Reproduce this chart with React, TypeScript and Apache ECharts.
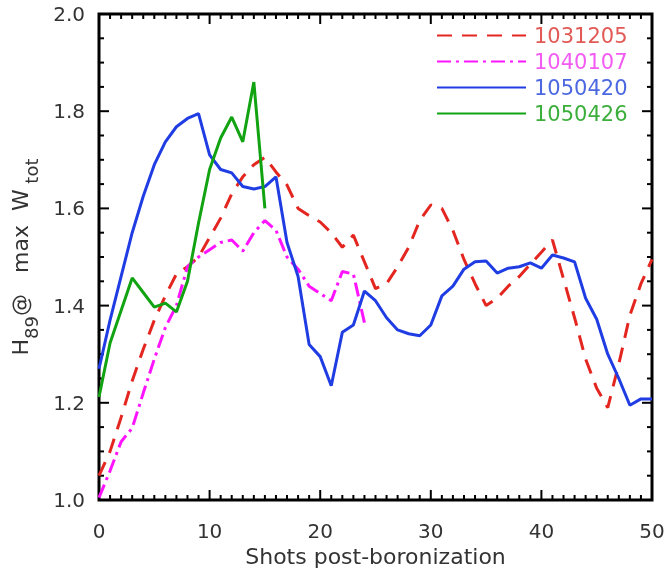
import React, { useEffect, useRef } from 'react';
import * as echarts from 'echarts';

// Shot number is the array index (0, 1, 2, ...)
const series1031205 = [1.05, 1.10, 1.17, 1.245, 1.31, 1.37, 1.42, 1.465, 1.48, 1.50, 1.54, 1.58, 1.63, 1.665, 1.69, 1.705, 1.675, 1.648, 1.60, 1.585, 1.572, 1.55, 1.52, 1.545, 1.49, 1.435, 1.445, 1.48, 1.52, 1.575, 1.607, 1.60, 1.555, 1.495, 1.445, 1.40, 1.415, 1.44, 1.46, 1.485, 1.51, 1.535, 1.455, 1.375, 1.29, 1.23, 1.19, 1.28, 1.38, 1.445, 1.495];
const series1040107 = [1.005, 1.06, 1.12, 1.148, 1.22, 1.29, 1.355, 1.40, 1.48, 1.50, 1.515, 1.53, 1.535, 1.512, 1.55, 1.575, 1.555, 1.50, 1.475, 1.44, 1.425, 1.41, 1.47, 1.465, 1.365];
const series1050420 = [1.27, 1.37, 1.46, 1.55, 1.625, 1.69, 1.737, 1.768, 1.785, 1.795, 1.71, 1.68, 1.673, 1.645, 1.64, 1.645, 1.665, 1.53, 1.46, 1.32, 1.295, 1.235, 1.345, 1.36, 1.43, 1.41, 1.375, 1.35, 1.342, 1.338, 1.36, 1.42, 1.44, 1.475, 1.49, 1.492, 1.467, 1.477, 1.48, 1.488, 1.477, 1.504, 1.498, 1.49, 1.415, 1.372, 1.30, 1.25, 1.195, 1.208, 1.208];
const series1050426 = [1.212, 1.323, 1.39, 1.457, 1.427, 1.397, 1.405, 1.387, 1.45, 1.57, 1.68, 1.745, 1.788, 1.737, 1.86, 1.60];

const seriesNames = ['1031205', '1040107', '1050420', '1050426'];
const lineColors = ['#e3261f', '#ff14ff', '#1f3de3', '#12a312'];
const legendTextColors = ['#e25a55', '#f25cf2', '#4c68e0', '#3cae3c'];

// Axis ranges and tick spacing
const X_MIN = 0, X_MAX = 50, X_MAJOR = 10, X_MINOR = 1;
const Y_MIN = 1.0, Y_MAX = 2.0, Y_MAJOR = 0.2, Y_MINOR = 0.05;

const FONT = 'DejaVu Sans';
const TEXT = '#333333';

const toPairs = (arr: number[]) => arr.map((v, i) => [i, v]);

function tickList(min: number, max: number, step: number) {
  const out: number[] = [];
  const n = Math.round((max - min) / step);
  for (let i = 0; i <= n; i++) out.push(+(min + i * step).toFixed(6));
  return out;
}
const isMajor = (v: number, min: number, step: number) => {
  const k = (v - min) / step;
  return Math.abs(k - Math.round(k)) < 1e-6;
};

export default function App() {
  const ref = useRef<HTMLDivElement>(null);
  useEffect(() => {
    if (!ref.current) return;
    const chart = echarts.init(ref.current, undefined, { renderer: 'svg' });
    const dashes: any[] = [[15, 10], [14, 5, 3, 5], 'solid', 'solid'];
    const datasets = [series1031205, series1040107, series1050420, series1050426];

    chart.setOption({
      animation: false,
      grid: { left: 99, right: 14, top: 14, bottom: 68, outerBoundsMode: 'none' },
      legend: {
        orient: 'vertical',
        left: 431,
        top: 20,
        itemWidth: 89,
        itemHeight: 20,
        itemGap: 5,
        itemStyle: { opacity: 0 },
        textStyle: { fontSize: 21, fontFamily: FONT, lineHeight: 20, padding: [0, 0, 0, 3] },
        data: seriesNames.map((n, i) => ({ name: n, textStyle: { color: legendTextColors[i] } })),
      },
      xAxis: {
        type: 'value', min: X_MIN, max: X_MAX, interval: X_MAJOR,
        axisLine: { show: false }, axisTick: { show: false }, splitLine: { show: false },
        axisLabel: { show: true, fontSize: 20, fontFamily: FONT, color: TEXT, margin: 21 },
        name: 'Shots post-boronization', nameLocation: 'middle', nameGap: 42,
        nameTextStyle: { fontSize: 22, fontFamily: FONT, color: TEXT },
      },
      yAxis: {
        type: 'value', min: Y_MIN, max: Y_MAX, interval: Y_MAJOR,
        axisLine: { show: false }, axisTick: { show: false }, splitLine: { show: false },
        axisLabel: { show: true, fontSize: 20, fontFamily: FONT, color: TEXT, margin: 14, formatter: (v: number) => v.toFixed(1) },
        name: '{m|H}{s|89}{m|@   max  W}{s| tot}',
        nameLocation: 'middle', nameGap: 46, nameRotate: 90,
        nameTextStyle: {
          fontSize: 22, fontFamily: FONT, color: TEXT,
          rich: {
            m: { fontSize: 22, lineHeight: 22, verticalAlign: 'top', fontFamily: FONT, color: TEXT },
            s: { fontSize: 18, lineHeight: 44, fontFamily: FONT, color: TEXT },
          },
        },
      },
      series: seriesNames.map((n, i) => ({
        name: n,
        type: 'line',
        data: toPairs(datasets[i]),
        symbol: 'none',
        showSymbol: false,
        itemStyle: { color: lineColors[i] },
        lineStyle: { color: lineColors[i], width: 3, type: dashes[i] },
      })),
    });

    // Box frame with inward major/minor ticks on all four sides, placed via the chart's own scales
    const toPx = (x: number, y: number) => chart.convertToPixel({ gridIndex: 0 }, [x, y]) as number[];
    const [x0, y0] = toPx(X_MIN, Y_MIN);
    const [x1, y1] = toPx(X_MAX, Y_MAX);
    const st = { stroke: '#000000', lineWidth: 2 };
    const elements: any[] = [];
    tickList(X_MIN, X_MAX, X_MINOR).forEach((v) => {
      const px = toPx(v, Y_MIN)[0];
      const len = isMajor(v, X_MIN, X_MAJOR) ? 10 : 5;
      elements.push({ type: 'line', silent: true, shape: { x1: px, y1: y0, x2: px, y2: y0 - len }, style: st });
      elements.push({ type: 'line', silent: true, shape: { x1: px, y1: y1, x2: px, y2: y1 + len }, style: st });
    });
    tickList(Y_MIN, Y_MAX, Y_MINOR).forEach((v) => {
      const py = toPx(X_MIN, v)[1];
      const len = isMajor(v, Y_MIN, Y_MAJOR) ? 10 : 5;
      elements.push({ type: 'line', silent: true, shape: { x1: x0, y1: py, x2: x0 + len, y2: py }, style: st });
      elements.push({ type: 'line', silent: true, shape: { x1: x1, y1: py, x2: x1 - len, y2: py }, style: st });
    });
    elements.push({
      type: 'rect', silent: true,
      shape: { x: x0, y: y1, width: x1 - x0, height: y0 - y1 },
      style: { fill: 'none', stroke: '#000000', lineWidth: 3 },
    });
    chart.setOption({ graphic: { elements } });

    return () => chart.dispose();
  }, []);
  return <div ref={ref} style={{ position: 'fixed', left: 0, top: 0, width: 666, height: 568 }} />;
}
